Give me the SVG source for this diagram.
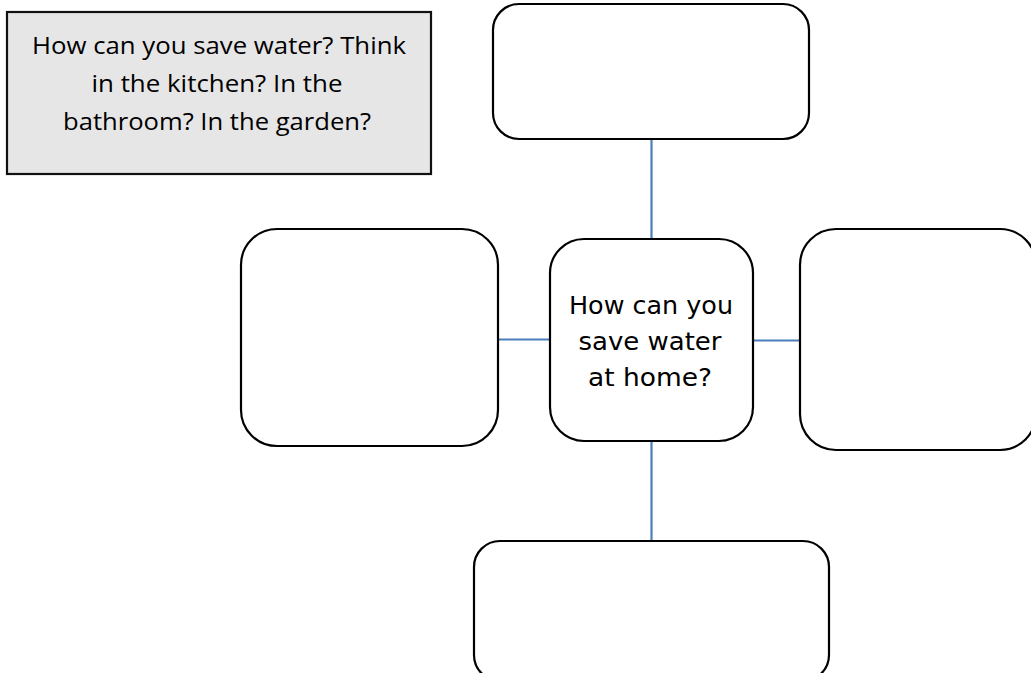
<svg xmlns="http://www.w3.org/2000/svg" width="1031" height="673" viewBox="0 0 1031 673">
<style>
.box{fill:#ffffff;stroke:#000000;stroke-width:2.2}
.note{fill:#e7e6e6;stroke:#111111;stroke-width:2.2}
.conn{stroke:#4a7ebb;stroke-width:2.2;fill:none}
.nt{font-family:"Open Sans","Liberation Sans",sans-serif;font-size:24px;fill:#000;text-anchor:middle}
.ct{font-family:"DejaVu Sans","Liberation Sans",sans-serif;font-size:24px;fill:#000;text-anchor:middle}
</style>
<rect width="1031" height="673" fill="#ffffff"/>
<g id="connectors">
<line class="conn" x1="651.5" y1="139" x2="651.5" y2="239"/>
<line class="conn" x1="498" y1="339.5" x2="550" y2="339.5"/>
<line class="conn" x1="753" y1="340.5" x2="800" y2="340.5"/>
<line class="conn" x1="651.5" y1="441" x2="651.5" y2="541"/>
</g>
<g id="note">
<rect class="note" x="7" y="12" width="424" height="162"/>
<text class="nt" x="219" y="54" textLength="374" lengthAdjust="spacingAndGlyphs">How can you save water? Think</text>
<text class="nt" x="217" y="92" textLength="251" lengthAdjust="spacingAndGlyphs">in the kitchen? In the</text>
<text class="nt" x="217" y="130" textLength="308" lengthAdjust="spacingAndGlyphs">bathroom? In the garden?</text>
</g>
<g id="top">
<rect class="box" x="493" y="4" width="316" height="135" rx="26" ry="26"/>
</g>
<g id="left">
<rect class="box" x="241" y="229" width="257" height="217" rx="36" ry="36"/>
</g>
<g id="center">
<rect class="box" x="550" y="239" width="203" height="202" rx="34" ry="34"/>
<text class="ct" x="651" y="314" textLength="164" lengthAdjust="spacingAndGlyphs">How can you</text>
<text class="ct" x="650" y="350" textLength="143" lengthAdjust="spacingAndGlyphs">save water</text>
<text class="ct" x="650" y="386" textLength="124" lengthAdjust="spacingAndGlyphs">at home?</text>
</g>
<g id="right">
<rect class="box" x="800" y="229" width="236" height="221" rx="36" ry="36"/>
</g>
<g id="bottom">
<rect class="box" x="474" y="541" width="355" height="140" rx="26" ry="26"/>
</g>
</svg>
